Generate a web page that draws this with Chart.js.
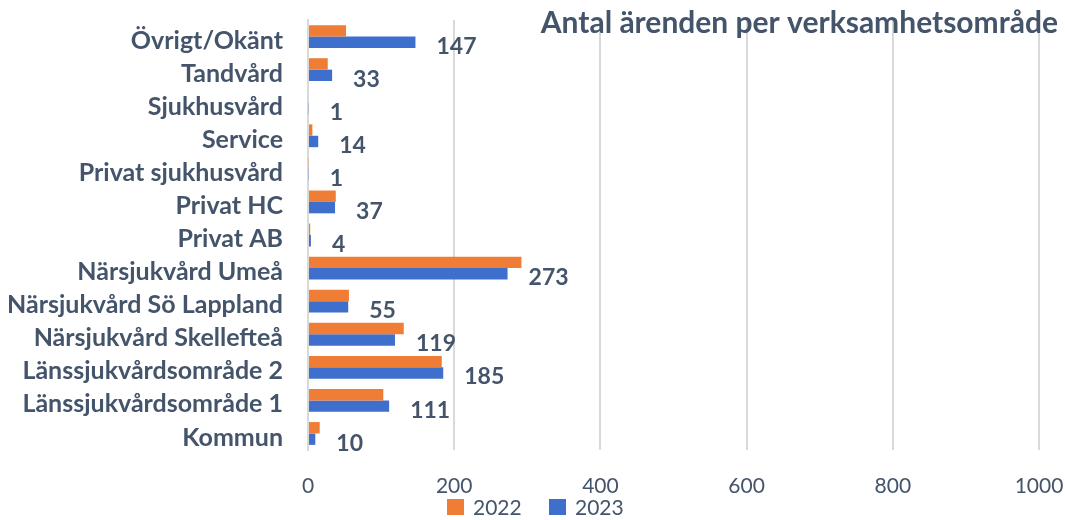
<!DOCTYPE html>
<html>
<head>
<meta charset="utf-8">
<script src="https://cdn.jsdelivr.net/npm/chart.js@4.4.1/dist/chart.umd.min.js"></script>
<style>
  html, body { margin: 0; padding: 0; background: #fff; }
  #wrap { width: 1065px; height: 520px; }
</style>
</head>
<body>
<div id="wrap"><canvas id="chart"></canvas></div>
<script>
const categories = [
  'Övrigt/Okänt', 'Tandvård', 'Sjukhusvård', 'Service', 'Privat sjukhusvård',
  'Privat HC', 'Privat AB', 'Närsjukvård Umeå', 'Närsjukvård Sö Lappland',
  'Närsjukvård Skellefteå', 'Länssjukvårdsområde 2', 'Länssjukvårdsområde 1', 'Kommun'
];
const values2022 = [52, 27, 0, 6, 1, 38, 3, 292, 56, 131, 183, 103, 16];
const values2023 = [147, 33, 1, 14, 1, 37, 4, 273, 55, 119, 185, 111, 10];
const xTicks = [0, 200, 400, 600, 800, 1000];
const chartTitle = 'Antal ärenden per verksamhetsområde';

const textColor = '#44546a';
const gridColor = '#d9d9d9';

// value labels for 2023 only, right of the blue bar and a bit below it
const valueLabels = {
  id: 'valueLabels',
  afterDatasetsDraw(chart) {
    const ctx = chart.ctx;
    const meta = chart.getDatasetMeta(1);
    ctx.save();
    ctx.font = 'bold 23px Lato';
    ctx.fillStyle = textColor;
    ctx.textAlign = 'left';
    ctx.textBaseline = 'middle';
    meta.data.forEach((bar, i) => {
      ctx.fillText(String(values2023[i]), bar.x + 21, bar.y + 4);
    });
    ctx.restore();
  }
};

// title sits inside the plot, top right; legend drawn under the x axis
const extras = {
  id: 'extras',
  afterDraw(chart) {
    const ctx = chart.ctx;
    ctx.save();
    ctx.font = 'bold 30px Lato';
    ctx.fillStyle = textColor;
    ctx.textAlign = 'right';
    ctx.textBaseline = 'middle';
    ctx.fillText(chartTitle, 1058, 23);

    ctx.font = '21px Lato';
    ctx.textAlign = 'left';
    let x = 447;
    chart.data.datasets.forEach(ds => {
      ctx.fillStyle = ds.backgroundColor;
      ctx.fillRect(x, 499, 17, 16);
      ctx.fillStyle = textColor;
      ctx.fillText(ds.label, x + 26, 508);
      x += 102;
    });
    ctx.restore();
  }
};

new Chart(document.getElementById('chart'), {
  type: 'bar',
  data: {
    labels: categories,
    datasets: [
      { label: '2022', data: values2022, backgroundColor: '#ef7d35', borderWidth: 0 },
      { label: '2023', data: values2023, backgroundColor: '#3f6fcc', borderWidth: 0 }
    ]
  },
  options: {
    indexAxis: 'y',
    responsive: true,
    maintainAspectRatio: false,
    animation: false,
    layout: { padding: { top: 20, right: 26, bottom: 25, left: 0 } },
    datasets: { bar: { categoryPercentage: 0.69, barPercentage: 1 } },
    scales: {
      x: {
        min: 0,
        max: 1000,
        afterBuildTicks(scale) {
          scale.ticks = xTicks.map(v => ({ value: v }));
        },
        afterFit(scale) {
          scale.height = 45;
          scale.paddingLeft = 0;
          scale.paddingRight = 0;
        },
        grid: { color: gridColor, lineWidth: 2, drawTicks: false },
        border: { display: false },
        ticks: {
          padding: 24,
          color: textColor,
          font: { family: 'Lato', size: 21 },
          maxRotation: 0,
          callback: v => String(v)
        }
      },
      y: {
        afterFit(scale) {
          scale.width = 308;
          scale.paddingTop = 0;
          scale.paddingBottom = 0;
        },
        grid: { display: false, drawTicks: false },
        border: { display: true, color: gridColor, width: 2 },
        ticks: {
          padding: 25,
          labelOffset: 4,
          color: textColor,
          font: { family: 'Lato', size: 25, weight: 'bold' },
          autoSkip: false
        }
      }
    },
    plugins: {
      legend: { display: false },
      tooltip: { enabled: false }
    }
  },
  plugins: [valueLabels, extras]
});
</script>
</body>
</html>
